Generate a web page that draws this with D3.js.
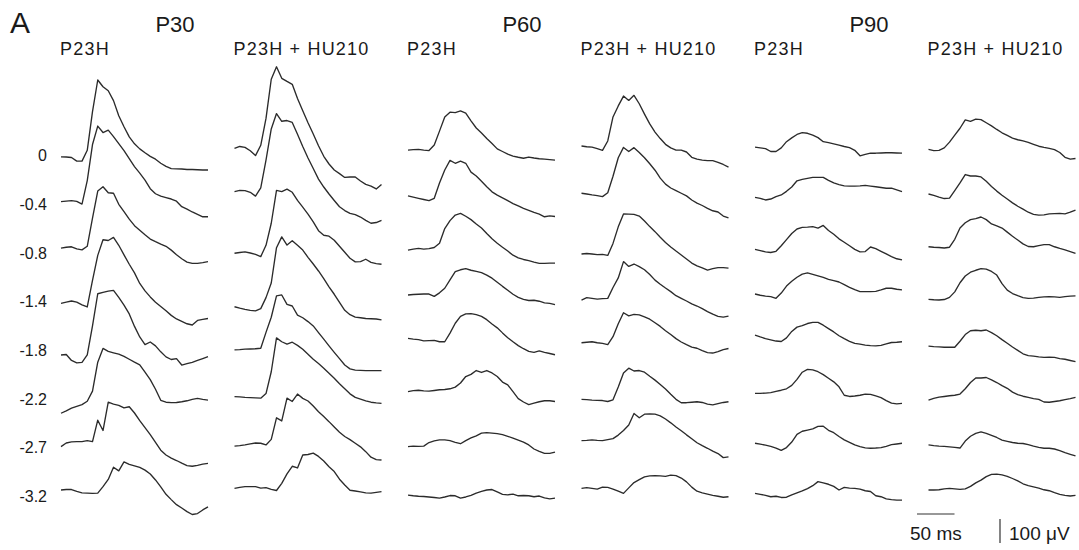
<!DOCTYPE html>
<html>
<head>
<meta charset="utf-8">
<script src="https://cdn.jsdelivr.net/npm/d3@7"></script>
<style>
  body { margin: 0; background: #fff; }
  svg { display: block; }
  text { font-family: "Liberation Sans", Arial, sans-serif; fill: #1a1a1a; }
  .trace { fill: none; stroke: #2b2b2b; stroke-width: 1.35; stroke-linejoin: round; }
  .bar { stroke: #333; stroke-width: 1.2; }
</style>
</head>
<body>
<div id="chart"></div>
<script>
// stimulus intensity rows (log cd s/m2)
const rowLabels = ['0', '-0.4', '-0.8', '-1.4', '-1.8', '-2.2', '-2.7', '-3.2'];
const ages = ['P30', 'P60', 'P90'];
const groups = ['P23H', 'P23H + HU210'];

// samples every 7 ms, 0..196 ms; values in microvolts
const p30_P23H = [
  [0,-1,-3,-18,-18,27,188,320,292,275,234,171,125,83,54,33,17,2,-10,-27,-40,-49,-50,-51,-53,-53,-54,-55,-55],
  [0,2,4,1,-10,88,238,315,288,298,271,242,213,179,146,119,90,54,33,23,17,11,2,-21,-31,-43,-53,-63,-63],
  [0,4,6,-3,-7,8,125,238,256,231,229,183,152,121,94,75,56,38,27,17,8,-8,-27,-44,-58,-63,-63,-60,-56],
  [0,5,10,5,-6,-15,96,200,265,262,275,242,202,163,127,83,52,27,5,-13,-31,-50,-65,-75,-85,-90,-71,-67,-63],
  [0,2,-23,-33,-31,0,121,255,261,266,269,240,208,171,119,75,43,54,38,13,-8,-19,-15,-42,-36,-31,-23,-15,-7],
  [0,10,21,29,36,50,92,213,270,258,252,246,237,225,213,202,171,140,100,54,46,44,45,48,52,58,62,58,55],
  [0,15,20,21,21,25,21,110,67,185,177,172,161,166,140,108,79,50,18,-15,-35,-48,-58,-69,-79,-82,-78,-73,-70],
  [0,2,2,-6,-12,-13,-14,-13,14,44,95,80,117,107,101,94,83,67,42,13,-18,-40,-61,-75,-90,-102,-98,-83,-70]
];
const p30_HU210 = [
  [0,8,4,-10,-30,13,125,288,340,292,279,267,208,157,107,60,11,-33,-65,-90,-105,-121,-119,-119,-136,-150,-157,-169,-150],
  [0,5,4,-3,-19,15,131,261,325,293,296,288,239,188,140,96,52,19,-10,-37,-63,-79,-91,-96,-106,-120,-132,-129,-120],
  [0,3,6,1,-5,-14,33,125,262,257,267,254,220,192,163,131,94,75,71,54,29,4,-21,-36,-35,-25,-38,-43,-46],
  [0,-6,-11,-15,-17,-8,38,99,246,291,257,275,256,236,206,178,149,117,83,52,18,-15,-33,-43,-46,-49,-50,-51,-55],
  [0,1,3,4,5,7,73,136,225,229,190,183,145,134,118,100,72,45,17,-10,-36,-63,-79,-84,-85,-86,-86,-86,-86],
  [0,-1,-3,-4,-5,-6,13,104,245,229,219,227,214,198,177,156,138,119,98,77,54,33,12,-3,-10,-17,-23,-26,-28],
  [0,2,5,9,13,12,5,28,118,105,200,186,217,199,188,167,143,123,102,80,58,40,27,12,-3,-23,-46,-56,-58],
  [0,4,7,7,7,1,3,-4,-9,21,60,92,85,139,141,147,133,114,90,70,38,14,-8,-11,-15,-19,-20,-17,-14]
];
const p60_P23H = [
  [0,2,3,0,-2,21,79,138,158,156,163,154,122,92,71,48,27,5,-6,-17,-25,-30,-34,-29,-33,-36,-38,-40,-42],
  [0,-5,-10,-15,-20,-10,54,108,148,136,145,136,99,83,61,38,17,3,-8,-20,-32,-42,-52,-60,-69,-76,-87,-83,-86],
  [0,4,7,4,6,11,29,90,123,146,153,141,127,109,92,69,47,29,12,-4,-21,-32,-39,-44,-50,-55,-55,-54,-54],
  [0,2,3,4,4,-6,9,28,63,97,105,110,103,98,93,83,70,53,36,20,3,-10,-18,-23,-22,-26,-33,-35,-40],
  [0,-3,-5,-10,-9,-8,-14,-14,22,63,92,102,103,99,92,78,60,44,23,3,-14,-30,-43,-54,-58,-52,-58,-63,-68],
  [0,4,6,3,2,5,8,9,12,19,36,63,72,88,80,88,78,63,40,28,0,-29,-43,-54,-48,-42,-38,-38,-41],
  [0,2,1,2,17,24,28,28,25,18,12,25,36,45,56,58,56,54,50,43,35,27,19,7,-10,-20,-28,-28,-23],
  [0,-3,-5,-6,-8,-10,-13,-8,-2,-3,-13,-8,-1,8,15,21,23,13,3,1,4,-3,-2,-3,-7,-4,-12,-16,-13]
];
const p60_HU210 = [
  [0,-3,-5,-11,-18,21,121,167,208,190,211,176,133,92,58,31,7,-8,-17,-17,-25,-47,-55,-59,-61,-61,-68,-77,-88],
  [0,-3,-7,-10,-14,2,71,148,191,174,190,170,148,123,96,63,38,22,11,0,-11,-28,-41,-51,-63,-73,-78,-95,-103],
  [0,2,0,-3,-2,-6,44,113,167,166,165,158,137,114,93,70,48,29,12,-4,-21,-38,-50,-58,-67,-61,-57,-57,-59],
  [0,10,7,4,6,7,52,92,160,140,150,139,126,106,83,66,50,35,18,7,-4,-16,-25,-36,-48,-59,-68,-71,-67],
  [0,2,4,0,-3,-8,25,79,125,112,118,116,108,98,83,68,50,34,17,3,-8,-18,-23,-33,-41,-43,-37,-29,-24],
  [0,-1,-3,-4,-5,-9,-2,51,110,130,118,120,113,96,80,62,43,21,0,-14,-14,-12,-10,-13,-20,-23,-18,-13,-10],
  [0,1,3,1,0,4,8,23,42,65,113,95,110,111,110,103,90,74,57,41,24,8,-9,-21,-32,-44,-54,-71,-68],
  [0,3,0,-3,5,4,-3,-12,-21,2,24,36,48,52,53,52,50,55,53,43,27,5,-12,-19,-24,-29,-33,-37,-35]
];
const p90_P23H = [
  [0,-3,-6,-18,-18,-3,23,39,53,61,58,50,40,23,19,14,9,3,-2,-13,-36,-30,-25,-25,-24,-23,-23,-24,-25],
  [0,-4,-11,-7,3,10,25,43,69,75,79,83,83,83,71,60,53,48,47,47,48,50,47,44,41,38,38,31,24],
  [0,-5,-10,-13,-8,15,41,66,85,92,93,95,89,100,79,63,44,30,15,0,-10,-9,10,3,-8,-19,-30,-39,-44],
  [0,-5,-9,-11,-18,4,33,53,70,83,88,82,76,69,61,56,50,39,28,18,10,10,10,11,17,24,24,20,17],
  [0,-8,-15,-20,-25,-27,-12,15,33,39,48,53,53,41,27,13,-3,-15,-26,-35,-38,-42,-44,-45,-43,-37,-31,-30,-28],
  [0,0,1,3,8,13,19,33,58,88,100,98,90,78,63,48,27,-8,-13,-11,-8,-3,-4,-11,-18,-30,-41,-44,-42],
  [0,-4,-8,-13,-20,-30,-18,5,37,50,55,60,70,71,54,44,28,14,4,-7,-14,-19,-21,-20,-18,-13,-6,-3,0],
  [0,-4,-8,-14,-12,-17,-16,-6,2,10,20,32,49,44,38,29,14,25,22,21,18,11,8,-10,-14,-23,-26,-28,-28]
];
const p90_HU210 = [
  [0,-5,-4,6,30,59,88,123,117,126,124,111,98,83,69,58,47,40,35,29,21,13,8,4,-1,-13,-33,-41,-38],
  [0,-6,-13,-19,-17,14,46,81,75,75,71,53,31,12,-5,-21,-37,-51,-63,-76,-85,-88,-87,-83,-82,-81,-83,-76,-67],
  [0,-2,-3,-5,-2,31,78,100,113,117,124,113,95,87,78,61,44,28,12,1,0,5,9,9,0,-7,-13,-20,-28],
  [0,-2,-3,-1,8,31,69,97,113,121,128,126,116,101,65,38,24,15,7,4,5,8,10,11,10,8,11,13,14],
  [0,-2,-3,-5,-5,-5,20,48,64,66,64,67,56,43,27,12,-4,-18,-32,-40,-42,-45,-47,-46,-47,-52,-55,-60,-65],
  [0,7,12,15,18,20,25,47,73,92,92,94,84,73,60,49,33,23,16,11,6,3,-8,-9,-6,-3,2,6,11],
  [0,-3,-5,-6,-8,-10,-13,16,36,48,54,48,40,31,20,15,10,7,6,1,-5,-10,-14,-14,-17,-24,-32,-39,-46],
  [0,0,1,5,7,5,3,5,15,30,41,56,65,66,63,57,48,38,26,18,13,8,1,-3,-11,-18,-22,-25,-22]
];

// starting level of each trace relative to its row (microvolts)
const level_p30_P23H = [-30, -14, -5, -32, -44, -84, -20, 2];
const level_p30_HU210 = [5, 28, -26, -46, -23, -15, -18, 9];
const level_p60_P23H = [-2, 10, -13, 3, 25, 6, -20, -19];
const level_p60_HU210 = [15, 21, -29, -18, 7, -26, 5, 9];
const level_p90_P23H = [10, 4, -10, 7, 39, -1, -6, -12];
const level_p90_HU210 = [1, 18, 1, -15, -7, -29, -13, 2];

const panels = [
  { age: 'P30', group: groups[0], traces: p30_P23H, levels: level_p30_P23H },
  { age: 'P30', group: groups[1], traces: p30_HU210, levels: level_p30_HU210 },
  { age: 'P60', group: groups[0], traces: p60_P23H, levels: level_p60_P23H },
  { age: 'P60', group: groups[1], traces: p60_HU210, levels: level_p60_HU210 },
  { age: 'P90', group: groups[0], traces: p90_P23H, levels: level_p90_P23H },
  { age: 'P90', group: groups[1], traces: p90_HU210, levels: level_p90_HU210 }
];

const sampleMs = d3.range(0, 197, 7);

let width = 1079, height = 550;

var svg = d3.select('#chart')
  .append('svg')
    .attr('width', width)
    .attr('height', height);

// columns
var colX = d3.scaleBand()
  .domain(d3.range(panels.length))
  .range([61, 61 + 6 * 173.5]);

// rows
var rowY = d3.scalePoint()
  .domain(rowLabels)
  .range([149.6, 490.5]);

// time and amplitude
var X = d3.scaleLinear().domain([0, 196]).range([0, 147]);
var amp = d3.scaleLinear().domain([0, 100]).range([0, 24]);

// panel letter
svg.append('text')
  .attr('x', 10).attr('y', 33)
  .attr('font-size', '30px')
  .text('A');

// age titles
ages.forEach(function (a, i) {
  svg.append('text')
    .attr('x', colX(i * 2) + 114)
    .attr('y', 32)
    .attr('font-size', '22px')
    .attr('text-anchor', 'middle')
    .text(a);
});

// row labels
svg.selectAll('.row-label')
  .data(rowLabels)
  .enter().append('text')
    .attr('class', 'row-label')
    .attr('x', 47)
    .attr('y', function (d) { return rowY(d) + 6; })
    .attr('dy', '0.35em')
    .attr('text-anchor', 'end')
    .attr('font-size', '16px')
    .text(function (d) { return d; });

panels.forEach(function (p, c) {
  var g = svg.append('g')
    .attr('transform', 'translate(' + colX(c) + ',0)');

  g.append('text')
    .attr('x', -1).attr('y', 55)
    .attr('font-size', '18px')
    .attr('letter-spacing', '1.2px')
    .text(p.group);

  p.traces.forEach(function (vals, r) {
    var base = rowY(rowLabels[r]);
    var lvl = p.levels[r];
    var line = d3.line()
      .x(function (d, i) { return X(sampleMs[i]); })
      .y(function (d) { return base - amp(d + lvl); });
    g.append('path')
      .attr('class', 'trace')
      .attr('d', line(vals));
  });
});

// scale bars
svg.append('line')
  .attr('class', 'bar')
  .attr('x1', 917).attr('x2', 917 + X(50))
  .attr('y1', 514).attr('y2', 514);
svg.append('text')
  .attr('x', 910).attr('y', 540)
  .attr('font-size', '19px')
  .text('50 ms');

svg.append('line')
  .attr('class', 'bar')
  .attr('x1', 1000).attr('x2', 1000)
  .attr('y1', 519).attr('y2', 519 + amp(100));
svg.append('text')
  .attr('x', 1009).attr('y', 540)
  .attr('font-size', '19px')
  .text('100 \u03bcV');
</script>
</body>
</html>
